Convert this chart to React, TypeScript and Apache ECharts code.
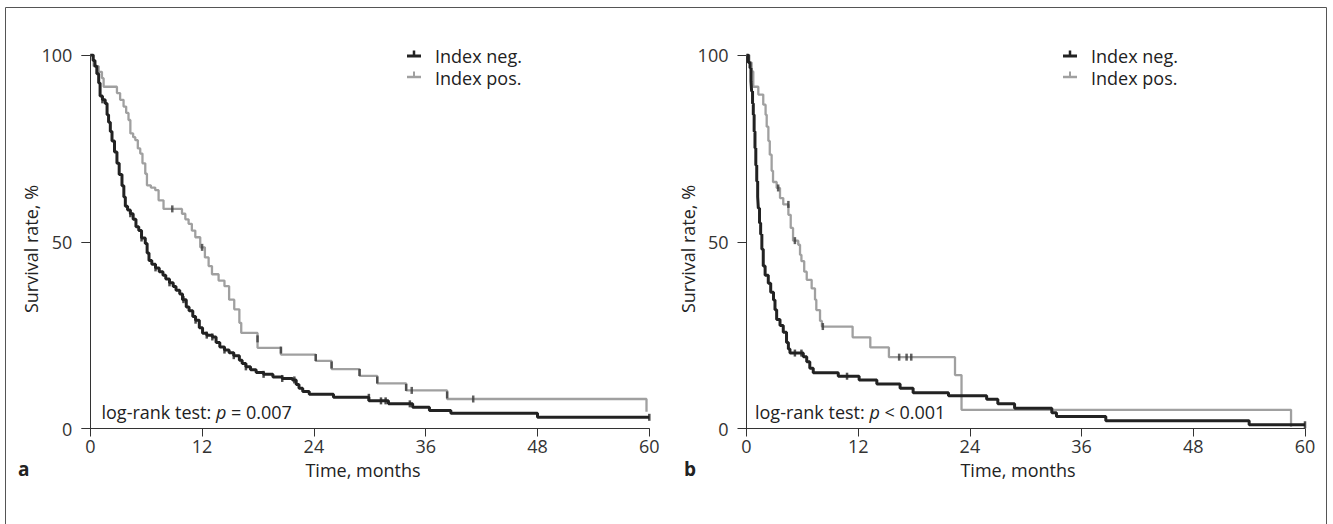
import React, { useEffect, useRef } from "react";
import * as echarts from "echarts";

const FONT = "'Open Sans', 'DejaVu Sans', sans-serif";
const DARK = "#222222";
const GRAY = "#a0a0a0";
const AXIS = "#333333";
const FS = 18;

// Panel a — Kaplan-Meier steps [months, survival %]
const negA: [number, number][] = [
  [0, 100], [0.3, 98.5], [0.5, 97], [0.7, 95], [0.9, 92.5], [1.05, 89], [1.3, 88], [1.6, 87],
  [1.8, 84], [1.96, 82], [2.15, 79.5], [2.33, 77], [2.6, 74], [2.86, 71], [3.1, 68], [3.4, 65],
  [3.6, 62], [3.76, 59.5], [4.0, 58.5], [4.3, 57.5], [4.6, 56], [4.9, 54], [5.2, 53], [5.5, 51],
  [5.9, 49.5], [6.1, 47], [6.3, 45], [6.6, 44], [7.0, 43], [7.4, 42], [7.8, 41], [8.1, 40],
  [8.5, 39], [8.9, 38], [9.2, 37], [9.6, 36], [9.9, 34.5], [10.3, 32.5], [10.6, 31.5], [11.0, 30],
  [11.3, 29], [11.7, 27], [12.05, 25.5], [12.5, 25], [13.1, 24.5], [13.5, 23], [13.9, 21.8],
  [14.4, 21], [14.9, 20.3], [15.4, 19.5], [16.0, 18.3], [16.3, 17.4], [16.7, 16.5], [17.2, 15.7],
  [17.8, 15], [18.6, 14.5], [19.6, 13.8], [20.6, 13.4], [21.7, 13], [22.1, 11.8], [22.4, 10.8],
  [22.8, 9.9], [23.5, 9.2], [26.1, 8.35], [29.9, 7.4], [32.0, 6.6], [34.6, 5.7], [36.4, 4.8],
  [38.7, 4.1], [48.0, 3.0], [60, 3.0],
];
const posA: [number, number][] = [
  [0, 100], [0.36, 97], [0.9, 95.5], [1.25, 93.8], [1.43, 91.5], [2.86, 89.8], [3.2, 88],
  [3.57, 86.2], [3.85, 84.5], [4.1, 82.6], [4.3, 79], [4.6, 78], [4.83, 77.2], [5.1, 75],
  [5.36, 73.6], [5.6, 71], [5.9, 68.2], [6.08, 65.1], [6.5, 64.5], [6.97, 63.8], [7.33, 61.1],
  [7.86, 58.8], [9.84, 57.5], [10.2, 56], [10.55, 54.8], [10.9, 53], [11.27, 51.2], [11.8, 48.5],
  [12.3, 45.8], [12.7, 43.5], [13.06, 41.3], [13.77, 39.6], [14.4, 38.1], [14.9, 34.5],
  [15.45, 31.9], [16.0, 28.3], [16.2, 25.6], [17.95, 21.6], [20.46, 19.8], [24.2, 18.1],
  [25.9, 15.9], [28.9, 14.1], [30.8, 12.1], [33.9, 10.2], [38.3, 7.9], [59.7, 4.5],
];
const negACensor: [number, number][] = [
  [1.3, 88], [4.3, 57.5], [5.5, 51], [7.0, 43], [8.5, 39], [10.0, 34.5], [11.3, 29], [12.5, 25],
  [13.1, 24.5], [14.4, 21], [15.4, 19.5], [16.7, 16.5], [18.6, 14.5], [20.6, 13.4], [21.9, 13],
  [29.9, 8.35], [31.2, 7.4], [31.7, 7.4], [34.3, 6.6], [60, 3.0],
];
const posACensor: [number, number][] = [
  [8.8, 58.8], [12.0, 48.5], [17.95, 24], [20.46, 21], [24.2, 19], [25.9, 17], [28.9, 15],
  [30.8, 13], [33.9, 11], [34.5, 10.2], [38.3, 9], [41.1, 7.9],
];

// Panel b
const negB: [number, number][] = [
  [0, 100], [0.2, 98], [0.38, 96.5], [0.48, 93], [0.55, 90.3], [0.65, 87], [0.73, 84],
  [0.82, 79.5], [0.91, 75.1], [1.0, 70.5], [1.1, 66.2], [1.2, 62], [1.27, 59], [1.4, 55],
  [1.52, 52], [1.65, 48], [1.8, 43.5], [2.0, 41], [2.34, 38.9], [2.6, 36.5], [2.9, 34.4],
  [3.06, 31.8], [3.24, 29.2], [3.6, 27.6], [3.95, 25.8], [4.3, 23], [4.5, 21.3], [4.67, 20.2],
  [6.1, 19.2], [6.47, 17.9], [6.8, 16.1], [7.17, 14.9], [9.86, 14.0], [12.1, 13.0], [14.0, 11.9],
  [16.5, 10.8], [17.9, 9.6], [21.7, 8.8], [25.8, 7.8], [27.0, 6.6], [28.8, 5.4], [32.8, 4.2],
  [33.3, 3.2], [38.6, 2.1], [54.0, 1.0], [60, 1.0],
];
const posB: [number, number][] = [
  [0, 100], [0.3, 98], [0.55, 95.6], [0.73, 91.5], [1.27, 89.4], [1.8, 86.7], [2.05, 84],
  [2.17, 80.8], [2.35, 77], [2.5, 73.3], [2.7, 69], [2.85, 66], [3.24, 64.4], [3.6, 61.7],
  [3.95, 60], [4.5, 57.2], [4.75, 53.7], [5.0, 50.3], [5.56, 49.2], [5.75, 46.5], [5.9, 44.8],
  [6.2, 42], [6.47, 39.8], [7.0, 37.5], [7.36, 34.5], [7.5, 31.7], [7.9, 28.8], [8.1, 27.3],
  [11.4, 24.4], [13.3, 21.7], [15.3, 19.1], [22.4, 14.3], [23.1, 5.0], [58.5, 0.5],
];
const negBCensor: [number, number][] = [[5.2, 20.2], [5.9, 20.2], [10.8, 14.0], [60, 1.0]];
const posBCensor: [number, number][] = [
  [3.4, 64.4], [4.5, 60], [5.2, 50.3], [8.2, 27.3], [16.4, 19.1], [17.2, 19.1], [17.7, 19.1],
];

const xAxisBase = (gridIndex: number) => ({
  type: "value",
  gridIndex,
  min: 0,
  max: 60,
  interval: 12,
  axisLine: { show: true, lineStyle: { color: AXIS, width: 1 } },
  axisTick: { show: true, length: 8, lineStyle: { color: AXIS, width: 1 } },
  axisLabel: { fontSize: FS, color: AXIS, margin: 8, fontFamily: FONT },
  splitLine: { show: false },
});
const yAxisBase = (gridIndex: number) => ({
  type: "value",
  gridIndex,
  min: 0,
  max: 100,
  interval: 50,
  axisLine: { show: true, lineStyle: { color: AXIS, width: 1 } },
  axisTick: { show: true, length: 9, lineStyle: { color: AXIS, width: 1 } },
  axisLabel: { fontSize: FS, color: AXIS, margin: 18, fontFamily: FONT },
  splitLine: { show: false },
});

const stepSeries = (data: [number, number][], idx: number, color: string, width: number, z: number) => ({
  type: "line",
  xAxisIndex: idx,
  yAxisIndex: idx,
  data,
  step: "end",
  showSymbol: false,
  symbol: "none",
  silent: true,
  z,
  lineStyle: { color, width },
  itemStyle: { color },
});
const censorSeries = (data: [number, number][], idx: number, color: string, z: number) => ({
  type: "scatter",
  xAxisIndex: idx,
  yAxisIndex: idx,
  data,
  symbol: "rect",
  symbolSize: [2.5, 7],
  silent: true,
  z,
  itemStyle: { color },
});

const textEl = (text: string, x: number, y: number, extra: any = {}) => ({
  type: "text",
  x,
  y,
  silent: true,
  style: {
    text,
    fontSize: FS,
    fontFamily: FONT,
    fill: "#222",
    align: "left",
    verticalAlign: "middle",
    ...extra,
  },
});

const legendEls = (x0: number) => [
  { type: "line", silent: true, shape: { x1: x0, y1: 56, x2: x0 + 14, y2: 56 }, style: { stroke: DARK, lineWidth: 3 } },
  { type: "line", silent: true, shape: { x1: x0 + 7, y1: 50.5, x2: x0 + 7, y2: 56 }, style: { stroke: DARK, lineWidth: 2.5 } },
  { type: "line", silent: true, shape: { x1: x0, y1: 77, x2: x0 + 14, y2: 77 }, style: { stroke: GRAY, lineWidth: 2.5 } },
  { type: "line", silent: true, shape: { x1: x0 + 7, y1: 71.5, x2: x0 + 7, y2: 77 }, style: { stroke: GRAY, lineWidth: 2 } },
  textEl("Index neg.", x0 + 28, 56),
  textEl("Index pos.", x0 + 28, 78),
];

const logRank = (x: number, rel: string, val: string) =>
  textEl(`{n|log-rank test: }{i|p}{n| ${rel} ${val}}`, x, 412, {
    rich: {
      n: { fontSize: FS, fontFamily: FONT, fill: "#222" },
      i: { fontSize: FS, fontFamily: FONT, fontStyle: "italic", fill: "#222" },
    },
  });

export default function App() {
  const ref = useRef<HTMLDivElement>(null);
  useEffect(() => {
    const chart = echarts.init(ref.current!, null, { renderer: "svg" });
    const option: any = {
      animation: false,
      backgroundColor: "#ffffff",
      grid: [
        { left: 90.3, top: 55, width: 559, height: 373.5 },
        { left: 746.5, top: 55, width: 558.5, height: 373.5 },
      ],
      xAxis: [xAxisBase(0), xAxisBase(1)],
      yAxis: [yAxisBase(0), yAxisBase(1)],
      series: [
        stepSeries(posA, 0, GRAY, 2.3, 2),
        stepSeries(negA, 0, DARK, 3, 3),
        censorSeries(posACensor, 0, "#3a3a3a", 4),
        censorSeries(negACensor, 0, DARK, 4),
        stepSeries(posB, 1, GRAY, 2.3, 2),
        stepSeries(negB, 1, DARK, 3, 3),
        censorSeries(posBCensor, 1, "#3a3a3a", 4),
        censorSeries(negBCensor, 1, DARK, 4),
      ],
      graphic: [
        {
          type: "rect",
          silent: true,
          shape: { x: 5.5, y: 7.5, width: 1321, height: 540 },
          style: { fill: "none", stroke: "#555", lineWidth: 1 },
        },
        ...legendEls(407),
        ...legendEls(1063),
        logRank(101.5, "=", "0.007"),
        logRank(755, "<", "0.001"),
        textEl("Time, months", 363, 470, { align: "center" }),
        textEl("Time, months", 1018, 470, { align: "center" }),
        { ...textEl("Survival rate, %", 31, 249, { align: "center" }), rotation: Math.PI / 2 },
        { ...textEl("Survival rate, %", 688, 249, { align: "center" }), rotation: Math.PI / 2 },
        textEl("a", 18, 469, { fontWeight: "bold", fontSize: 19 }),
        textEl("b", 684, 469, { fontWeight: "bold", fontSize: 19 }),
      ],
    };
    chart.setOption(option);
    return () => chart.dispose();
  }, []);
  return (
    <div
      ref={ref}
      style={{ position: "absolute", left: 0, top: 0, width: 1333, height: 524, background: "#fff" }}
    />
  );
}
